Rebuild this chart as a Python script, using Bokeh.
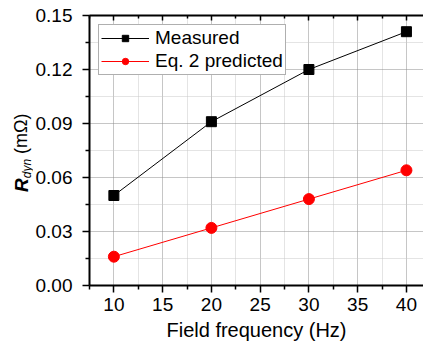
from bokeh.plotting import figure
from bokeh.layouts import row
from bokeh.models import (FixedTicker, LinearAxis, NumeralTickFormatter, Div,
                          Legend, LegendItem, Range1d)
from bokeh.embed import file_html
from bokeh.resources import INLINE

freq = [10, 20, 30, 40]
measured = [0.050, 0.091, 0.120, 0.141]
predicted = [0.016, 0.032, 0.048, 0.064]
x_ticks = [10, 15, 20, 25, 30, 35, 40]
x_minor = [7.5, 12.5, 17.5, 22.5, 27.5, 32.5, 37.5, 42.5]
y_ticks = [0.0, 0.03, 0.06, 0.09, 0.12, 0.15]
y_minor = [0.015, 0.045, 0.075, 0.105, 0.135]

FONT = "Liberation Sans"
LW = 32  # width of the strip carrying the y-axis title

# ---- y-axis title R_dyn (mΩ), rotated, as real text ----
title_html = (
    '<div style="position:relative;width:%dpx;height:343px;overflow:visible;">'
    '<div style="position:absolute;left:12px;top:192px;transform-origin:0 0;'
    'transform:rotate(-90deg);white-space:nowrap;font-family:\'%s\';'
    'font-size:18px;line-height:19px;color:black;">'
    '<span style="font-size:19px;font-weight:bold;font-style:italic;">R</span>'
    '<span style="font-size:12px;font-style:italic;position:relative;top:3px;">dyn</span>'
    '<span style="position:relative;top:-1px;"> (mΩ)</span>'
    '</div></div>' % (LW, FONT)
)
t = Div(text=title_html, width=LW, height=343, margin=0)

# ---- main chart ----
p = figure(width=423 - LW, height=343, output_backend="svg", toolbar_location=None,
           x_range=Range1d(7.5, 41.75), y_range=Range1d(0, 0.15),
           min_border_left=88 - LW, min_border_right=0, min_border_top=15,
           min_border_bottom=58, x_axis_location=None, y_axis_location=None)
p.outline_line_color = None
p.background_fill_color = "white"
p.border_fill_color = "white"

xt = FixedTicker(ticks=x_ticks, minor_ticks=x_minor)
yt = FixedTicker(ticks=y_ticks, minor_ticks=y_minor)

xaxis = LinearAxis(ticker=xt, axis_label="Field frequency (Hz)")
yaxis = LinearAxis(ticker=yt, formatter=NumeralTickFormatter(format="0.00"))
top = LinearAxis(ticker=xt, major_label_overrides={tk: "" for tk in x_ticks})
for ax in (xaxis, yaxis, top):
    ax.axis_line_width = 2
    ax.axis_line_color = "black"
    ax.major_tick_line_width = 1.5
    ax.minor_tick_line_width = 1.5
    ax.major_tick_line_color = "black"
    ax.minor_tick_line_color = "black"
    ax.major_label_text_font = FONT
    ax.major_label_text_font_size = "19px"
    ax.major_label_text_color = "black"
    ax.axis_label_text_font = FONT
    ax.axis_label_text_font_size = "20px"
    ax.axis_label_text_font_style = "normal"
    ax.axis_label_text_color = "black"
for ax in (xaxis, yaxis):
    ax.major_tick_out = 7
    ax.major_tick_in = 0
    ax.minor_tick_out = 4
    ax.minor_tick_in = 0
xaxis.major_label_standoff = 5
xaxis.axis_label_standoff = 5
yaxis.major_label_standoff = 10
top.major_tick_in = 5
top.major_tick_out = 0
top.minor_tick_in = 3
top.minor_tick_out = 0
top.major_label_standoff = 0

p.add_layout(xaxis, "below")
p.add_layout(yaxis, "left")
p.add_layout(top, "above")

p.xgrid.ticker = xt
p.ygrid.ticker = yt
for g in (p.xgrid[0], p.ygrid[0]):
    g.grid_line_color = "#8c8c8c"
    g.grid_line_dash = "1 1"
    g.grid_line_width = 1
    g.minor_grid_line_color = "#c8c8c8"
    g.minor_grid_line_dash = "1 1"
    g.minor_grid_line_width = 1

l1 = p.line(freq, measured, line_color="black", line_width=1)
s1 = p.scatter(freq, measured, marker="square", size=10, fill_color="black",
               line_color="black")
l2 = p.line(freq, predicted, line_color="red", line_width=1)
s2 = p.scatter(freq, predicted, marker="circle", size=11, fill_color="red",
               line_color="red")

legend = Legend(items=[LegendItem(label="Measured", renderers=[l1, s1]),
                       LegendItem(label="Eq. 2 predicted", renderers=[l2, s2])],
                location="top_left")
legend.margin = 9
legend.padding = 2
legend.spacing = 1
legend.glyph_width = 48
legend.glyph_height = 16
legend.label_height = 16
legend.label_standoff = 6
legend.label_text_font = FONT
legend.label_text_font_size = "19px"
legend.label_text_color = "black"
legend.border_line_color = "#606060"
legend.border_line_width = 1.5
legend.background_fill_alpha = 1
p.add_layout(legend)

open("out.html", "w").write(file_html(row(t, p, spacing=0), INLINE))
